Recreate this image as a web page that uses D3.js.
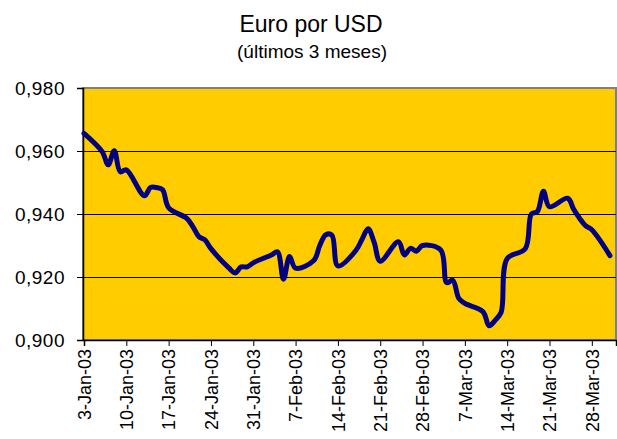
<!DOCTYPE html>
<html>
<head>
<meta charset="utf-8">
<script src="https://cdn.jsdelivr.net/npm/d3@7"></script>
<style>
  body { margin: 0; background: #fff; }
  svg { display: block; font-family: "Liberation Sans", Arial, sans-serif; }
</style>
</head>
<body>
<svg id="chart" width="617" height="439"></svg>
<script>
// daily quotes, euro per US dollar
const dates = [
  "2003-01-03", "2003-01-06", "2003-01-07", "2003-01-08", "2003-01-09", "2003-01-10",
  "2003-01-13", "2003-01-14", "2003-01-15", "2003-01-16", "2003-01-17",
  "2003-01-20", "2003-01-21", "2003-01-22", "2003-01-23", "2003-01-24",
  "2003-01-27", "2003-01-28", "2003-01-29", "2003-01-30", "2003-01-31",
  "2003-02-03", "2003-02-04", "2003-02-05", "2003-02-06", "2003-02-07",
  "2003-02-10", "2003-02-11", "2003-02-12", "2003-02-13", "2003-02-14",
  "2003-02-17", "2003-02-18", "2003-02-19", "2003-02-20", "2003-02-21",
  "2003-02-24", "2003-02-25", "2003-02-26", "2003-02-27", "2003-02-28",
  "2003-03-03", "2003-03-04", "2003-03-05", "2003-03-06", "2003-03-07",
  "2003-03-10", "2003-03-11", "2003-03-12", "2003-03-13", "2003-03-14",
  "2003-03-17", "2003-03-18", "2003-03-19", "2003-03-20", "2003-03-21",
  "2003-03-24", "2003-03-25", "2003-03-26", "2003-03-27", "2003-03-28",
  "2003-03-31"
]
const rates = [
  0.9656, 0.9598, 0.9556, 0.9601, 0.9534, 0.9540,
  0.9458, 0.9484, 0.9484, 0.9477, 0.9420,
  0.9386, 0.9360, 0.9328, 0.9318, 0.9290,
  0.9228, 0.9213, 0.9232, 0.9232, 0.9245,
  0.9270, 0.9280, 0.9193, 0.9265, 0.9228,
  0.9252, 0.9300, 0.9334, 0.9333, 0.9235,
  0.9285, 0.9320, 0.9353, 0.9310, 0.9250,
  0.9312, 0.9270, 0.9291, 0.9282, 0.9300,
  0.9286, 0.9182, 0.9190, 0.9132, 0.9116,
  0.9090, 0.9045, 0.9062, 0.9088, 0.9258,
  0.9290, 0.9400, 0.9408, 0.9472, 0.9423,
  0.9450, 0.9415, 0.9386, 0.9362, 0.9350,
  0.9268
]
const yTicks = [0.90, 0.92, 0.94, 0.96, 0.98]
const xTickDates = [
  "2003-01-03", "2003-01-10", "2003-01-17", "2003-01-24", "2003-01-31",
  "2003-02-07", "2003-02-14", "2003-02-21", "2003-02-28",
  "2003-03-07", "2003-03-14", "2003-03-21", "2003-03-28"
]
const xTickLabels = [
  "3-Jan-03", "10-Jan-03", "17-Jan-03", "24-Jan-03", "31-Jan-03",
  "7-Feb-03", "14-Feb-03", "21-Feb-03", "28-Feb-03",
  "7-Mar-03", "14-Mar-03", "21-Mar-03", "28-Mar-03"
]
const dateRange = ["2003-01-03", "2003-04-01"]

const parse = d3.timeParse("%Y-%m-%d")
const data = dates.map((d, i) => ({ date: parse(d), value: rates[i] }))

const svg = d3.select("#chart")
const plot = { left: 83, right: 616, top: 88, bottom: 340 }

const x = d3.scaleTime()
    .domain(dateRange.map(parse))
    .range([plot.left + 1, plot.right])

const y = d3.scaleLinear()
    .domain([0.90, 0.98])
    .range([plot.bottom, plot.top])

const fmt = d3.formatLocale({ decimal: ",", thousands: ".", grouping: [3], currency: ["", "€"] }).format(".3f")

// titles
svg.append("text")
    .attr("x", 311).attr("y", 32)
    .attr("text-anchor", "middle")
    .style("font-size", "23px")
    .text("Euro por USD")

svg.append("text")
    .attr("x", 312).attr("y", 58)
    .attr("text-anchor", "middle")
    .style("font-size", "19px")
    .text("(últimos 3 meses)")

// plot area
svg.append("rect")
    .attr("x", plot.left).attr("y", plot.top)
    .attr("width", plot.right - plot.left)
    .attr("height", plot.bottom - plot.top)
    .attr("fill", "#FFCC00")
    .attr("stroke", "#808080")
    .attr("stroke-width", 2)

// gridlines
svg.append("g")
    .selectAll("line")
    .data(yTicks.slice(1, -1))
    .join("line")
    .attr("x1", plot.left).attr("x2", plot.right)
    .attr("y1", d => Math.round(y(d)) + 0.5)
    .attr("y2", d => Math.round(y(d)) + 0.5)
    .attr("stroke", "#000")
    .attr("stroke-width", 1)

// y axis
const yAxis = svg.append("g")
    .attr("transform", `translate(${plot.left},0)`)
    .call(d3.axisLeft(y).tickValues(yTicks).tickFormat(fmt).tickSize(6).tickPadding(12))
yAxis.select(".domain").attr("stroke", "#000").attr("stroke-width", 1.5)
yAxis.selectAll("text")
    .style("font-size", "19px")
    .style("letter-spacing", "0.5px")
    .attr("fill", "#000")

// x axis
const xAxis = svg.append("g")
    .attr("transform", `translate(0,${plot.bottom})`)
    .call(d3.axisBottom(x)
        .tickValues(xTickDates.map(parse))
        .tickFormat((d, i) => xTickLabels[i])
        .tickSize(6))
xAxis.select(".domain").attr("stroke", "#000").attr("stroke-width", 1.5)
xAxis.selectAll("text")
    .style("font-size", "18px")
    .style("font-weight", "500")
    .attr("fill", "#000")
    .attr("transform", "rotate(-90)")
    .attr("text-anchor", "end")
    .attr("x", -9)
    .attr("y", 0)
    .attr("dy", "0.35em")

// the rate line
const line = d3.line()
    .x(d => x(d.date))
    .y(d => y(d.value))
    .curve(d3.curveCatmullRom.alpha(0.5))

svg.append("path")
    .datum(data)
    .attr("d", line)
    .attr("fill", "none")
    .attr("stroke", "#000080")
    .attr("stroke-width", 5)
    .attr("stroke-linejoin", "round")
    .attr("stroke-linecap", "round")
</script>
</body>
</html>
